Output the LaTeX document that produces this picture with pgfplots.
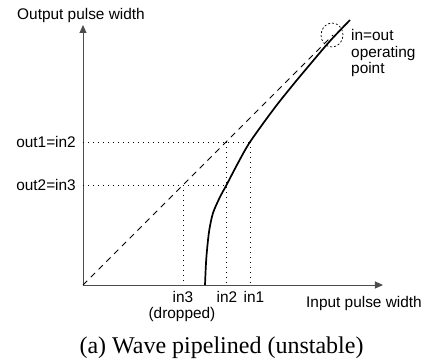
\documentclass[border=0pt]{standalone}
\usepackage{fontspec}
\setmainfont{Liberation Serif}
\newfontfamily\arial{Liberation Sans}
\usepackage{pgfplots}
\pgfplotsset{compat=1.18}
\usetikzlibrary{arrows.meta}
\tikzset{lab/.style={font=\arial\fontsize{15.4bp}{16bp}\selectfont, inner sep=0pt}}
\begin{document}
\begin{tikzpicture}
\useasboundingbox (-83bp,-77bp) rectangle (344bp,285bp);
\begin{axis}[
  at={(0,0)}, anchor=south west,
  x=1bp, y=1bp,
  xmin=0, xmax=300, ymin=0, ymax=260,
  axis lines=left,
  axis line style={black!70, line width=0.9bp, -{Triangle[length=8bp,width=7bp]}},
  xtick=\empty, ytick=\empty,
  clip=false,
]
% identity line
\addplot[black, line width=0.8bp, dash pattern=on 6bp off 5bp] coordinates {(0,0) (250,250)};
% dotted guides
\addplot[black, line width=0.9bp, dash pattern=on 0.9bp off 4.1bp] coordinates {(0,143) (167,143)};
\addplot[black, line width=0.9bp, dash pattern=on 0.9bp off 4.1bp] coordinates {(167,143) (167,0)};
\addplot[black, line width=0.9bp, dash pattern=on 0.9bp off 4.1bp] coordinates {(0,100) (143,100)};
\addplot[black, line width=0.9bp, dash pattern=on 0.9bp off 4.1bp] coordinates {(143,143) (143,0)};
\addplot[black, line width=0.9bp, dash pattern=on 0.9bp off 4.1bp] coordinates {(100,100) (100,0)};
% transfer curve
\addplot[black, line width=1.7bp, smooth] coordinates {
  (122,0) (123,22) (124.3,38) (126.3,55) (130,72) (137,88) (143.5,100)
  (155,122) (167,143) (190,175) (207,196.5) (224,217) (247,244) (267,265)};
% operating point ellipse
\draw[black, line width=0.7bp, dash pattern=on 2bp off 2bp] (axis cs:249,250) ellipse [x radius=11bp, y radius=12bp];
% labels
\node[lab, anchor=base] at (axis cs:-2,265.5) {Output pulse width};
\node[lab, anchor=east] at (axis cs:-7,143) {out1=in2};
\node[lab, anchor=east] at (axis cs:-7,100) {out2=in3};
\node[lab, anchor=base] at (axis cs:100,-17) {in3};
\node[lab, anchor=base] at (axis cs:99,-33) {(dropped)};
\node[lab, anchor=base] at (axis cs:144,-17) {in2};
\node[lab, anchor=base] at (axis cs:171,-17) {in1};
\node[lab, anchor=base] at (axis cs:281,-22) {Input pulse width};
\node[lab, anchor=base west] at (axis cs:268,244.3) {in=out};
\node[lab, anchor=base west] at (axis cs:268,227.7) {operating};
\node[lab, anchor=base west] at (axis cs:268,211.7) {point};
\node[anchor=base, inner sep=0pt, font=\rmfamily\fontsize{24bp}{26bp}\selectfont] at (axis cs:138.5,-68) {(a) Wave pipelined (unstable)};
\end{axis}
\end{tikzpicture}
\end{document}
